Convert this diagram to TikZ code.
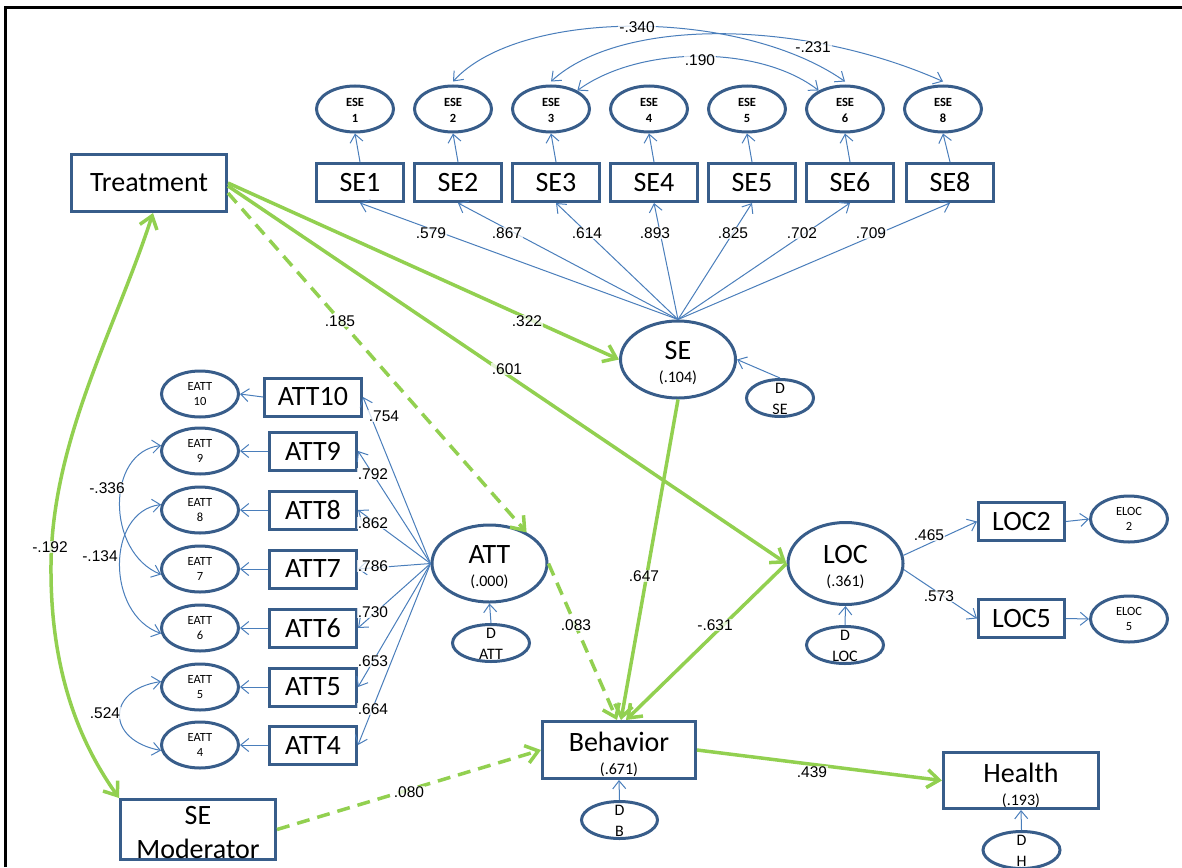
\documentclass[tikz,border=0pt]{standalone}
\usepackage{fontspec}
\setmainfont{Carlito}
\newfontfamily\arialfont{Liberation Sans}
\usetikzlibrary{arrows.meta,shapes.geometric}

\definecolor{boxblue}{HTML}{385D8A}
\definecolor{lineblue}{HTML}{4A7EBB}
\definecolor{pathgreen}{HTML}{92D050}

\newcommand\bigfnt{\fontsize{28}{28}\selectfont}
\newcommand\subfnt{\fontsize{16}{16}\selectfont}
\newcommand\dfnt{\fontsize{16}{16}\selectfont}
\newcommand\efnt{\fontsize{12.5}{12.5}\selectfont}
\newcommand\esefnt{\fontsize{12.5}{12.5}\selectfont\bfseries}
\newcommand\numfnt{\arialfont\fontsize{15.5}{15.5}\selectfont}

\tikzset{
  obs/.style={rectangle, draw=boxblue, line width=3pt, fill=white, inner sep=0pt,
    minimum width=87pt, minimum height=38pt, font=\bigfnt},
  lat/.style={ellipse, draw=boxblue, line width=3pt, fill=white, inner sep=0pt,
    minimum width=115pt, minimum height=77pt},
  err/.style={ellipse, draw=boxblue, line width=3pt, fill=white, inner sep=0pt,
    minimum width=77pt, minimum height=46pt},
  dis/.style={ellipse, draw=boxblue, line width=3pt, fill=white, inner sep=0pt,
    minimum width=77pt, minimum height=37pt},
  latlab/.style 2 args={label={[font=\bigfnt,yshift=9pt]center:#1},
    label={[font=\subfnt,yshift=-18pt]center:#2}},
  boxlab/.style 2 args={label={[font=\bigfnt,yshift=8pt]center:#1},
    label={[font=\subfnt,yshift=-20pt]center:#2}},
  modlab/.style 2 args={label={[font=\bigfnt,yshift=14.5pt]center:#1},
    label={[font=\bigfnt,yshift=-19pt]center:#2}},
  dlab/.style 2 args={label={[font=\dfnt,yshift=10pt]center:#1},
    label={[font=\dfnt,yshift=-11pt]center:#2}},
  elab/.style 2 args={label={[font=\efnt,yshift=7.5pt]center:#1},
    label={[font=\efnt,yshift=-7.5pt]center:#2}},
  eselab/.style 2 args={label={[font=\esefnt,yshift=7pt]center:#1},
    label={[font=\esefnt,yshift=-9pt]center:#2}},
  thinarrow/.style={draw=lineblue, line width=1pt,
    -{Straight Barb[length=8pt,width=13pt]}},
  cov/.style={draw=lineblue, line width=1pt,
    {Straight Barb[length=8pt,width=13pt]}-{Straight Barb[length=8pt,width=13pt]}},
  gpath/.style={draw=pathgreen, line width=3.5pt,
    -{Straight Barb[length=12pt,width=18pt]}},
  gdash/.style={gpath, dash pattern=on 13pt off 8pt},
  num/.style={font=\numfnt, fill=white, fill opacity=0.75, text opacity=1, inner sep=1pt},
}

\begin{document}
\begin{tikzpicture}[x=1pt,y=-1pt]
\useasboundingbox (0,0) rectangle (1182,867);

% frame
\draw[line width=3pt] (5,867) -- (5,8) -- (1182,8);

% ---------- self-efficacy indicators ----------
\node[obs] (se1) at (360,182.5) {SE1};
\node[obs] (se2) at (458,182.5) {SE2};
\node[obs] (se3) at (556,182.5) {SE3};
\node[obs] (se4) at (654,182.5) {SE4};
\node[obs] (se5) at (752,182.5) {SE5};
\node[obs] (se6) at (850,182.5) {SE6};
\node[obs] (se8) at (950,182.5) {SE8};

\node[err, eselab={ESE}{1}] (ese1) at (355,109) {};
\node[err, eselab={ESE}{2}] (ese2) at (453,109) {};
\node[err, eselab={ESE}{3}] (ese3) at (551,109) {};
\node[err, eselab={ESE}{4}] (ese4) at (649,109) {};
\node[err, eselab={ESE}{5}] (ese5) at (747,109) {};
\node[err, eselab={ESE}{6}] (ese6) at (845,109) {};
\node[err, eselab={ESE}{8}] (ese8) at (943,109) {};

% ---------- attitude indicators ----------
\node[obs, minimum width=97pt] (att10) at (313,397) {ATT10};
\node[obs] (att9) at (313,451) {ATT9};
\node[obs] (att8) at (313,510) {ATT8};
\node[obs] (att7) at (313,569) {ATT7};
\node[obs] (att6) at (313,628) {ATT6};
\node[obs] (att5) at (313,687) {ATT5};
\node[obs] (att4) at (313,745) {ATT4};

\node[err, elab={EATT}{10}] (eatt10) at (200,394) {};
\node[err, elab={EATT}{9}] (eatt9) at (200,451) {};
\node[err, elab={EATT}{8}] (eatt8) at (200,510) {};
\node[err, elab={EATT}{7}] (eatt7) at (200,569) {};
\node[err, elab={EATT}{6}] (eatt6) at (200,628) {};
\node[err, elab={EATT}{5}] (eatt5) at (200,687) {};
\node[err, elab={EATT}{4}] (eatt4) at (200,745) {};

% ---------- locus of control indicators ----------
\node[obs, minimum width=86pt] (loc2) at (1021.5,521.5) {LOC2};
\node[obs, minimum width=86pt] (loc5) at (1021.5,618.5) {LOC5};
\node[err, elab={ELOC}{2}] (eloc2) at (1129,519) {};
\node[err, elab={ELOC}{5}] (eloc5) at (1129,619) {};

% ---------- structural part ----------
\node[obs, minimum width=155pt, minimum height=57pt] (treat) at (149,183) {Treatment};
\node[lat, latlab={SE}{(.104)}] (se) at (678,359.5) {};
\node[dis, minimum width=67pt, dlab={D}{SE}] (dse) at (780,398) {};
\node[lat, latlab={ATT}{(.000)}] (att) at (489.5,563.5) {};
\node[dis, dlab={D}{ATT}] (datt) at (491,643) {};
\node[lat, minimum height=82pt, latlab={LOC}{(.361)}] (loc) at (845.5,563.5) {};
\node[dis, dlab={D}{LOC}] (dloc) at (845,645) {};
\node[obs, minimum width=153pt, minimum height=57pt, boxlab={Behavior}{(.671)}] (beh) at (619,750) {};
\node[dis, minimum width=76pt, dlab={D}{B}] (db) at (619.5,820) {};
\node[obs, minimum width=155pt, minimum height=56pt, boxlab={Health}{(.193)}] (health) at (1021,780.5) {};
\node[dis, dlab={D}{H}] (dh) at (1021.5,850) {};
\node[obs, minimum width=155pt, minimum height=60pt, modlab={SE}{Moderator}] (semod) at (198,829.5) {};

% ---------- measurement arrows ----------
\foreach \n in {1,2,3,4,5,6,8}{
  \draw[thinarrow] (se.north) -- (se\n.south);
  \draw[thinarrow] (se\n.north) -- (ese\n.south);
}
\foreach \n in {10,9,8,7,6,5,4}{
  \draw[thinarrow] (att.west) -- (att\n.east);
  \draw[thinarrow] (att\n.west) -- (eatt\n.east);
}
\draw[thinarrow] (loc.8) -- (loc2.west);
\draw[thinarrow] (loc.-6) -- (loc5.west);
\draw[thinarrow] (loc2.east) -- (eloc2.west);
\draw[thinarrow] (loc5.east) -- (eloc5.west);

% disturbances
\draw[thinarrow] (dse.north) -- (se.east);
\draw[thinarrow] (datt.north) -- (att.south);
\draw[thinarrow] (dloc.north) -- (loc.south);
\draw[thinarrow] (db.north) -- (beh.south);
\draw[thinarrow] (dh.north) -- (health.south);

% error covariances
\draw[cov] ([yshift=3pt]ese2.north) .. controls (520,8) and (740,8) .. ([yshift=3pt]ese6.north);
\draw[cov] ([yshift=3pt]ese3.north) .. controls (620,18) and (800,18) .. ([yshift=3pt]ese8.north);
\draw[cov] (ese3.35) .. controls (640,45) and (760,45) .. (ese6.145);
\draw[cov] (eatt9.172) .. controls (106,452) and (106,552) .. (eatt7.188);
\draw[cov] (eatt8.172) .. controls (106,512) and (106,614) .. (eatt6.188);
\draw[cov] (eatt5.172) .. controls (106,690) and (106,740) .. (eatt4.188);

% ---------- structural paths ----------
\draw[gpath] (treat.east) -- (se.west);
\draw[gpath] ([yshift=-3pt]treat.east) -- (loc.west);
\draw[gdash] ([yshift=-10pt]treat.east) -- (att.40);
\draw[gpath] (se.south) -- ([xshift=2pt]beh.north);
\draw[gdash] (att.east) -- ([xshift=-2pt]beh.north);
\draw[gpath] (loc.west) -- ([xshift=7pt]beh.north);
\draw[gdash] (semod.east) -- (beh.west);
\draw[gpath] (beh.east) -- (health.west);
\draw[gpath, {Straight Barb[length=12pt,width=18pt]}-{Straight Barb[length=12pt,width=18pt]}]
  ([xshift=4pt]treat.south) .. controls (115,330) and (52,440) .. (51,565)
  .. controls (50,680) and (85,750) .. (semod.north west);

% ---------- coefficients ----------
\node[num] (l579) at (431,233) {.579};
\node[num] (l867) at (507,233) {.867};
\node[num] (l614) at (587,233) {.614};
\node[num] (l893) at (655,233) {.893};
\node[num] (l825) at (733,233) {.825};
\node[num] (l702) at (802,233) {.702};
\node[num] (l709) at (871,233) {.709};
\node[num] (l340) at (637,27) {-.340};
\node[num] (l231) at (813,47) {-.231};
\node[num] (l190) at (700,60) {.190};
\node[num] (l754) at (384,416) {.754};
\node[num] (l792) at (373,474) {.792};
\node[num] (l862) at (373,523) {.862};
\node[num] (l786) at (373,566) {.786};
\node[num] (l730) at (373,612) {.730};
\node[num] (l653) at (373,661) {.653};
\node[num] (l664) at (373,709) {.664};
\node[num] (l336) at (107,488) {-.336};
\node[num] (l134) at (100,556) {-.134};
\node[num] (l524) at (105,713) {.524};
\node[num] (l192) at (50,547) {-.192};
\node[num] (l185) at (340,321) {.185};
\node[num] (l322) at (527,321) {.322};
\node[num] (l601) at (507,369) {.601};
\node[num] (l647) at (644,576) {.647};
\node[num] (l083) at (576,625) {.083};
\node[num] (l631) at (715,625) {-.631};
\node[num] (l465) at (929,535) {.465};
\node[num] (l573) at (939,596) {.573};
\node[num] (l080) at (409,792) {.080};
\node[num] (l439) at (812,772) {.439};
\end{tikzpicture}
\end{document}
